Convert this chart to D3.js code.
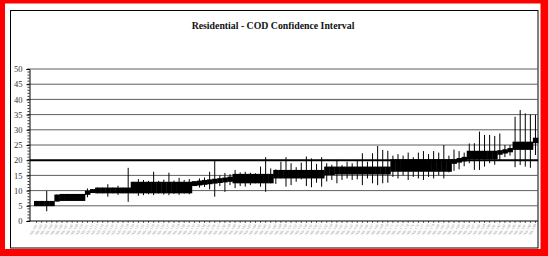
<!DOCTYPE html>
<html>
<head>
<meta charset="utf-8">
<script src="https://cdn.jsdelivr.net/npm/d3@7"></script>
<style>
body { margin: 0; background: #fff; }
</style>
</head>
<body>
<script>
// Neighbourhood labels (too small to read in the source, placeholder codes)
var area_labels = ("NB-101 NB-102 NB-103 NB-104 NB-105 NB-106 NB-107 NB-108 NB-109 NB-110 " +
    "NB-111 NB-112 NB-113 NB-114 NB-115 NB-116 NB-117 NB-118 NB-119 NB-120 " +
    "NB-121 NB-122 NB-123 NB-124 NB-125 NB-126 NB-127 NB-128 NB-129 NB-130 " +
    "NB-131 NB-132 NB-133 NB-134 NB-135 NB-136 NB-137 NB-138 NB-139 NB-140 " +
    "NB-141 NB-142 NB-143 NB-144 NB-145 NB-146 NB-147 NB-148 NB-149 NB-150 " +
    "NB-151 NB-152 NB-153 NB-154 NB-155 NB-156 NB-157 NB-158 NB-159 NB-160 " +
    "NB-161 NB-162 NB-163 NB-164 NB-165 NB-166 NB-167 NB-168 NB-169 NB-170 " +
    "NB-171 NB-172 NB-173 NB-174 NB-175 NB-176 NB-177 NB-178 NB-179 NB-180 " +
    "NB-181 NB-182 NB-183 NB-184 NB-185 NB-186 NB-187 NB-188 NB-189 NB-190 " +
    "NB-191 NB-192 NB-193 NB-194 NB-195 NB-196 NB-197 NB-198 NB-199").split(" ");

// COD box (low / high) for every neighbourhood
var box_low = [4.9,4.9,4.9,4.9, 6.4,6.6,6.6,6.6,6.6,6.6, 8.6, 9.2,
    9.1,9.1,9.1,9.1,9.1,9.1,9.1,
    9.1,9.1,9.1,9.1,9.1,9.1,9.1,9.1,9.1,9.1,9.1,9.1,
    11.5,11.7,11.9,12.1,12.3,12.5,12.7,12.9,
    12.4,12.4,12.4,12.4,12.4,12.4,12.4,12.4,
    14.0,14.0,14.0,14.0,14.0,14.0,14.0,14.0,14.0,14.0,
    15.1,15.1,
    15.3,15.3,15.3,15.3,15.3,15.3,15.3,15.3,15.3,15.3,15.3,
    16.2,16.2,16.2,16.2,16.2,16.2,16.2,16.2,16.2,16.2,16.2,16.2,
    18.8,19.2,19.6,
    20.3,20.3,20.3,20.3,20.3,20.3,
    21.8,22.2,22.6,
    23.4,23.4,23.4,23.4,
    25.6];
var box_high = [6.6,6.6,6.6,6.6, 8.7,8.9,8.9,8.9,8.9,8.9, 10.0, 10.5,
    11.0,11.0,11.0,11.0,11.0,11.0,11.0,
    12.9,12.9,12.9,12.9,12.9,12.9,12.9,12.9,12.9,12.9,12.9,12.9,
    13.1,13.3,13.5,13.7,13.9,14.1,14.3,14.6,
    15.5,15.5,15.5,15.5,15.5,15.5,15.5,15.5,
    16.8,16.8,16.8,16.8,16.8,16.8,16.8,16.8,16.8,16.8,
    17.9,17.9,
    17.9,17.9,17.9,17.9,17.9,17.9,17.9,17.9,17.9,17.9,17.9,
    20.3,20.3,20.3,20.3,20.3,20.3,20.3,20.3,20.3,20.3,20.3,20.3,
    20.3,20.7,21.1,
    23.1,23.1,23.1,23.1,23.1,23.1,
    23.3,23.6,24.0,
    26.1,26.1,26.1,26.1,
    27.4];

// Confidence interval (whisker) low / high
var ci_low = [4.9,4.9,3.2,4.9, 6.4,6.6,6.6,6.6,6.6,6.6, 7.8, 9.2,
    9.1,9.1,8.0,9.1,8.6,9.1,6.3,
    9.1,8.3,8.5,8.8,8.5,9.0,8.7,8.5,8.9,8.6,9.0,8.8,
    11.5,11.0,11.2,10.4,8.0,11.5,9.6,11.8,
    10.8,11.5,11.3,11.8,12.4,11.3,9.6,12.4,
    12.2,14.0,11.3,11.8,12.9,13.7,11.5,11.1,12.6,11.3,
    13.0,13.5,
    12.4,13.5,14.0,13.5,13.7,11.8,14.0,12.4,11.8,12.4,12.6,
    14.5,14.0,15.0,13.5,14.5,14.0,13.5,14.5,14.0,15.0,14.0,16.0,
    16.5,17.0,18.0,
    19.0,16.8,16.8,17.9,19.0,18.5,
    20.0,21.0,21.5,
    17.7,18.4,17.9,17.5,
    21.7];
var ci_high = [6.6,6.6,9.9,6.6, 8.7,8.9,8.9,8.9,8.9,8.9, 10.7, 10.5,
    11.0,11.0,12.1,11.0,11.6,11.0,17.5,
    12.9,13.8,13.5,13.2,16.2,13.2,13.6,15.9,13.3,14.2,13.5,13.8,
    13.1,14.0,14.3,16.2,20.0,15.0,15.8,15.4,
    16.8,16.0,16.2,15.9,15.7,17.9,21.0,17.3,
    17.0,19.5,21.0,19.0,17.7,19.2,21.2,20.6,18.8,21.0,
    19.0,18.5,
    20.1,18.4,19.5,19.0,20.1,22.3,19.5,22.3,24.7,23.4,23.1,
    21.5,22.0,21.5,22.5,21.0,22.5,23.0,22.0,23.0,22.5,25.0,21.5,
    23.5,23.0,22.5,
    25.5,25.6,29.4,28.3,28.3,28.0,
    28.8,25.0,25.0,
    34.3,36.5,35.4,35.0,
    34.9];

var y_ticks = [0, 5, 10, 15, 20, 25, 30, 35, 40, 45, 50];
var chart_title = "Residential - COD Confidence Interval";

var width = 548, height = 256;
var plot_left = 29.5, plot_right = 538, plot_top = 69, plot_bottom = 221;
var serif_font = "'Liberation Serif', 'Times New Roman', serif";

var svg = d3.select("body").append("svg")
    .attr("width", width)
    .attr("height", height);

// Red outer border, white inside, thin black frame
svg.append("rect").attr("width", width).attr("height", height).attr("fill", "#ff0000");
svg.append("rect").attr("x", 5).attr("y", 3.5).attr("width", 535.5).attr("height", 245.5).attr("fill", "#fff");
svg.append("rect").attr("x", 10.5).attr("y", 10.5).attr("width", 527.5).attr("height", 237.5)
    .attr("fill", "none").attr("stroke", "#000").attr("stroke-width", 1);

// Title
svg.append("text")
    .attr("x", 273).attr("y", 29)
    .attr("text-anchor", "middle")
    .style("font-family", serif_font)
    .style("font-weight", "bold")
    .style("font-size", "9.8px")
    .style("fill", "#111")
    .text(chart_title);

// Scales
var x_scale = d3.scaleBand()
    .domain(area_labels)
    .range([34, plot_right])
    .padding(0);
var y_scale = d3.scaleLinear()
    .domain([0, 50])
    .range([plot_bottom, plot_top]);

// Gridlines
svg.append("g").selectAll("line")
    .data(y_ticks.filter(function (t) { return t > 0; }))
    .enter().append("line")
    .attr("x1", plot_left).attr("x2", plot_right)
    .attr("y1", function (d) { return y_scale(d); })
    .attr("y2", function (d) { return y_scale(d); })
    .attr("stroke", function (d) { return d == 20 ? "#000" : "#5e5e5e"; })
    .attr("stroke-width", function (d) { return d == 20 ? 2 : 1; });

var cat_data = area_labels.map(function (name, idx) {
    return { name: name, lo: box_low[idx], hi: box_high[idx], ci_lo: ci_low[idx], ci_hi: ci_high[idx] };
});

// Whiskers
svg.append("g").selectAll("line")
    .data(cat_data)
    .enter().append("line")
    .attr("x1", function (d) { return x_scale(d.name) + x_scale.bandwidth() / 2; })
    .attr("x2", function (d) { return x_scale(d.name) + x_scale.bandwidth() / 2; })
    .attr("y1", function (d) { return y_scale(d.ci_lo); })
    .attr("y2", function (d) { return y_scale(d.ci_hi); })
    .attr("stroke", "#000")
    .attr("stroke-width", 1);

// COD boxes
svg.append("g").selectAll("rect")
    .data(cat_data)
    .enter().append("rect")
    .attr("x", function (d) { return x_scale(d.name); })
    .attr("width", x_scale.bandwidth() + 0.4)
    .attr("y", function (d) { return y_scale(d.hi); })
    .attr("height", function (d) { return y_scale(d.lo) - y_scale(d.hi); })
    .attr("fill", "#000");

// Y axis
var y_axis = d3.axisLeft(y_scale).tickValues(y_ticks).tickSize(3).tickPadding(4);
var y_axis_g = svg.append("g")
    .attr("transform", "translate(" + plot_left + ",0)")
    .call(y_axis);
y_axis_g.select(".domain").attr("stroke", "#000");
y_axis_g.selectAll("text")
    .style("font-family", serif_font)
    .style("font-size", "8.5px")
    .style("fill", "#333");
// minor ticks every unit
svg.append("g").selectAll("line")
    .data(d3.range(0, 51))
    .enter().append("line")
    .attr("x1", plot_left - 2).attr("x2", plot_left)
    .attr("y1", function (d) { return y_scale(d); })
    .attr("y2", function (d) { return y_scale(d); })
    .attr("stroke", "#000").attr("stroke-width", 0.8);

// X axis
var x_axis = d3.axisBottom(x_scale).tickSize(2).tickFormat("");
var x_axis_g = svg.append("g")
    .attr("transform", "translate(0," + plot_bottom + ")")
    .call(x_axis);
x_axis_g.select(".domain").remove();
x_axis_g.selectAll("line").attr("stroke", "#000").attr("stroke-width", 0.6);
svg.append("line")
    .attr("x1", plot_left).attr("x2", plot_right)
    .attr("y1", plot_bottom).attr("y2", plot_bottom)
    .attr("stroke", "#000");

// Rotated category labels
svg.append("g").selectAll("text")
    .data(area_labels)
    .enter().append("text")
    .attr("transform", function (d) {
        return "translate(" + (x_scale(d) + x_scale.bandwidth() / 2 + 1) + "," + (plot_bottom + 4) + ") rotate(-62)";
    })
    .attr("text-anchor", "end")
    .style("font-family", serif_font)
    .style("font-size", "3.8px")
    .style("fill", "#9c9c9c")
    .text(function (d) { return d; });
</script>
</body>
</html>
